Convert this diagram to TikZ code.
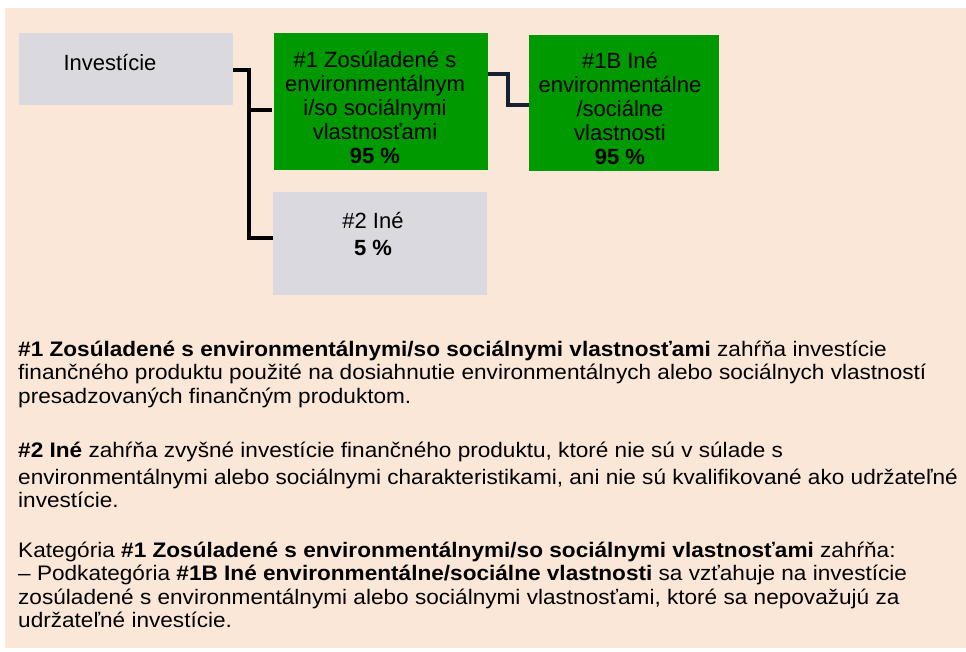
\documentclass[tikz,border=0pt]{standalone}
\usepackage{fontspec}
\setmainfont{Liberation Sans}
\newfontfamily\bodyfont[FakeStretch=1.076]{Liberation Sans}
\usetikzlibrary{calc}
\definecolor{bgpeach}{HTML}{FBE7D7}
\definecolor{boxgray}{HTML}{DAD9DF}
\definecolor{boxgreen}{HTML}{009900}
\definecolor{navyline}{HTML}{172033}
\tikzset{
  graybox/.style={rectangle, fill=boxgray, draw=none, inner sep=0pt},
  greenbox/.style={rectangle, fill=boxgreen, draw=none, inner sep=0pt},
  boxtext/.style={inner sep=0pt, align=center, anchor=base, font=\fontsize{22}{23.9}\selectfont},
  bodytext/.style={inner sep=0pt, align=left, anchor=base west, font=\bodyfont\fontsize{21}{23.4}\selectfont},
  conn/.style={line width=3.6pt, line join=miter, line cap=butt},
}
\begin{document}
\begin{tikzpicture}[x=1pt, y=-1pt]
\useasboundingbox (0,0) rectangle (966,651);
\fill[bgpeach] (5,8) rectangle (966,648);

% boxes
\node[graybox, minimum width=214pt, minimum height=72pt] (inv) at (126,69) {};
\node[greenbox, minimum width=214pt, minimum height=137pt] (g1) at (381,101.5) {};
\node[graybox, minimum width=214pt, minimum height=103pt] (g2) at (380,243.5) {};
\node[greenbox, minimum width=190pt, minimum height=136pt] (g1b) at (624,103) {};

% box texts (anchor = baseline of last line)
\node[boxtext] (tinv) at (110,70) {Investície};
\node[boxtext] (tg1) at (375,163) {\#1 Zosúladené s\\environmentálnym\\i/so sociálnymi\\vlastnosťami\\\textbf{95 \%}};
\node[boxtext] (tg1b) at (620,164) {\#1B Iné\\environmentálne\\/sociálne\\vlastnosti\\\textbf{95 \%}};
\node[boxtext] (tg2) at (373,255) {\#2 Iné\\[3pt]\textbf{5 \%}};

% connectors
\draw[conn, black] ([yshift=-1pt]inv.east) -- ++(16,0) |- ([yshift=5.5pt]g2.west);
\draw[conn, black] ([yshift=-8.5pt, xshift=-25pt]g1.west) -- ([yshift=-8.5pt, xshift=-2pt]g1.west);
\draw[conn, navyline] ([yshift=27.5pt]g1.east) -- ++(20,0) |- ([yshift=-2pt]g1b.west);

% explanatory text (anchor = baseline of last line)
\node[bodytext] (p1) at (18,403) {\textbf{\#1 Zosúladené s environmentálnymi/so sociálnymi vlastnosťami} zahŕňa investície\\
finančného produktu použité na dosiahnutie environmentálnych alebo sociálnych vlastností\\
presadzovaných finančným produktom.};
\node[bodytext] (p2) at (18,507.5) {\textbf{\#2 Iné} zahŕňa zvyšné investície finančného produktu, ktoré nie sú v súlade s\\[3pt]
environmentálnymi alebo sociálnymi charakteristikami, ani nie sú kvalifikované ako udržateľné\\
investície.};
\node[bodytext] (p3) at (18,627.5) {Kategória \textbf{\#1 Zosúladené s environmentálnymi/so sociálnymi vlastnosťami} zahŕňa:\\
– Podkategória \textbf{\#1B Iné environmentálne/sociálne vlastnosti} sa vzťahuje na investície\\
zosúladené s environmentálnymi alebo sociálnymi vlastnosťami, ktoré sa nepovažujú za\\
udržateľné investície.};
\end{tikzpicture}
\end{document}
